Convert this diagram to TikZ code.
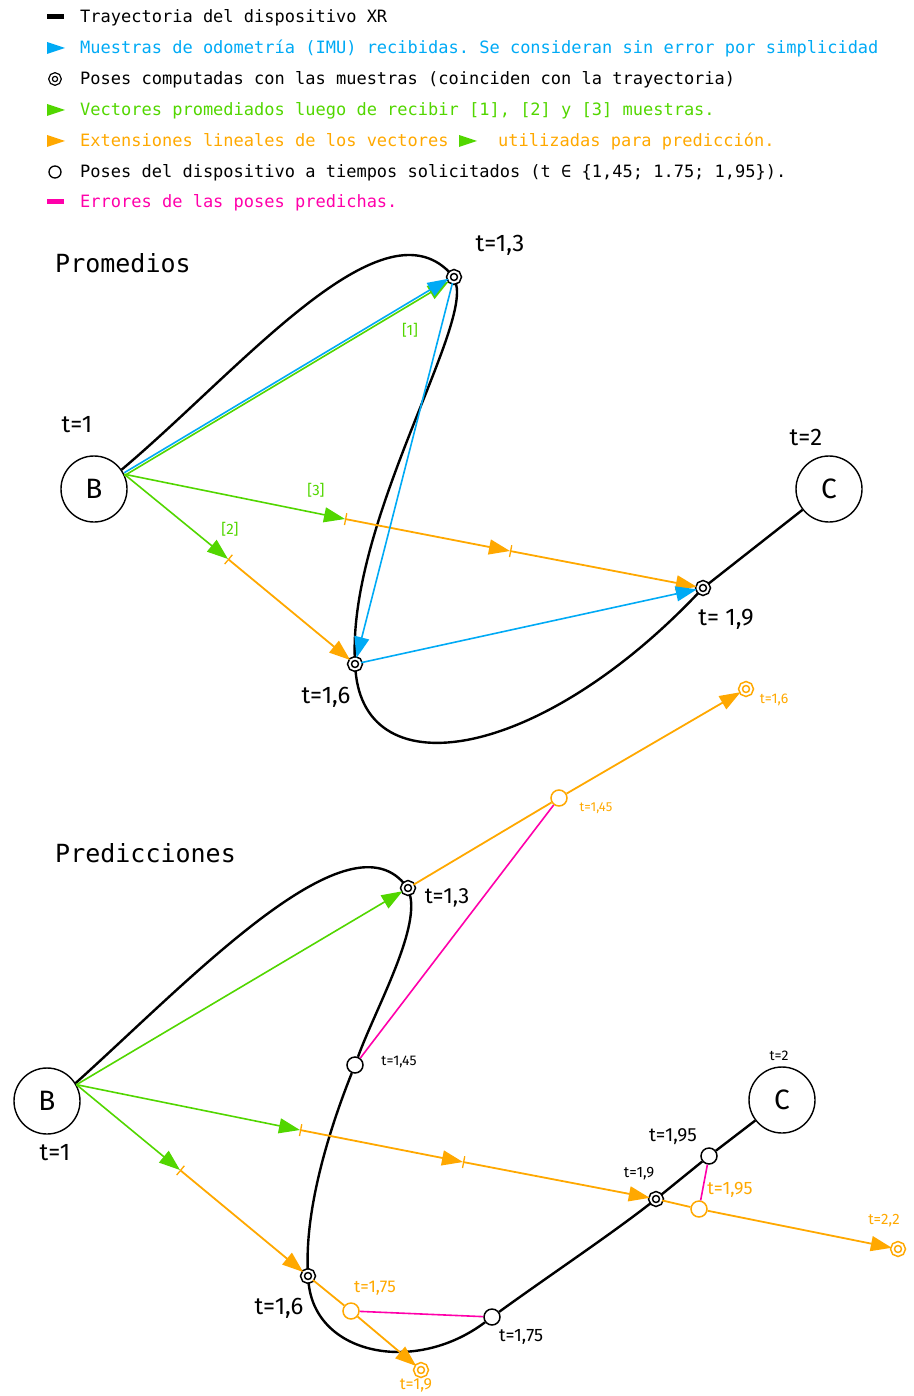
\documentclass[tikz,border=0pt]{standalone}
\usepackage{fontspec}
\setmonofont{DejaVu Sans Mono}
\newfontfamily\handfont{Fira Sans}
\usetikzlibrary{positioning, arrows.meta, calc}
\definecolor{imublue}{RGB}{0,170,245}
\definecolor{avggreen}{RGB}{82,214,0}
\definecolor{extorange}{RGB}{255,168,0}
\definecolor{errmagenta}{RGB}{255,0,170}

\begin{document}
\begin{tikzpicture}[
        x=1pt, y=-1pt,
        legtext/.style={anchor=base west, inner sep=0pt, font=\ttfamily\fontsize{17}{17}\selectfont},
        title/.style={anchor=base west, inner sep=0pt, font=\ttfamily\fontsize{25}{25}\selectfont},
        tlabel/.style={inner sep=0pt, font=\handfont\fontsize{#1}{#1}\selectfont},
        tlabel/.default=24,
        endpt/.style={circle, draw, line width=1.4pt, minimum size=66pt, inner sep=0pt, font=\handfont\fontsize{28}{28}\selectfont},
        pose/.style={circle, draw=#1, fill=white, line width=1.6pt, double=white, double distance=2pt, inner sep=0pt, minimum size=11pt},
        pose/.default=black,
        req/.style={circle, draw=#1, fill=white, line width=1.5pt, inner sep=0pt, minimum size=16pt},
        req/.default=black,
        >={Triangle[length=21pt, width=15pt]},
        traj/.style={line width=2.4pt, black},
        imu/.style={->, line width=1.6pt, imublue},
        avg/.style={->, line width=1.6pt, avggreen},
        ext/.style={line width=1.8pt, extorange},
        tick/.style={{Bar[width=12pt, line width=1.3pt]}->},
        err/.style={line width=1.6pt, errmagenta}
    ]
    \useasboundingbox (0,0) rectangle (913,1396);

    % legend
    \draw[line width=5pt] (47,17) -- (64,17);
    \node[legtext] (leg1) at (80,23) {Trayectoria del dispositivo XR};
    \fill[imublue] (47,42) -- (65,48) -- (47,54) -- cycle;
    \node[legtext, text=imublue] (leg2) at (80,54) {Muestras de odometría (IMU) recibidas. Se consideran sin error por simplicidad};
    \node[pose, minimum size=9pt, line width=1.3pt, double distance=2pt] (leg3m) at (55,79) {};
    \node[legtext] (leg3) at (80,85) {Poses computadas con las muestras (coinciden con la trayectoria)};
    \fill[avggreen] (47,104) -- (65,110) -- (47,116) -- cycle;
    \node[legtext, text=avggreen] (leg4) at (80,116) {Vectores promediados luego de recibir [1], [2] y [3] muestras.};
    \fill[extorange] (47,135) -- (65,141) -- (47,147) -- cycle;
    \node[legtext, text=extorange] (leg5) at (80,147) {Extensiones lineales de los vectores};
    \fill[avggreen] (459,135) -- (477,141) -- (459,147) -- cycle;
    \node[legtext, text=extorange] (leg5b) at (498,147) {utilizadas para predicción.};
    \node[req, minimum size=12pt, line width=1.3pt] (leg6m) at (55,172) {};
    \node[legtext] (leg6) at (80,178) {Poses del dispositivo a tiempos solicitados (t ∈ \{1,45; 1.75; 1,95\}).};
    \draw[errmagenta, line width=5pt] (47,202) -- (64,202);
    \node[legtext, text=errmagenta] (leg7) at (80,208) {Errores de las poses predichas.};

    % promedios
    \node[title] (tprom) at (55,273) {Promedios};
    \node[endpt] (b) at (94,489) {B};
    \node[endpt] (c) at (829,489) {C};
    \node[pose] (p13) at (454,277) {};
    \node[pose] (p16) at (355,664) {};
    \node[pose] (p19) at (703,588) {};
    \coordinate (b0) at (b.26);
    \coordinate (k2a) at (228,559);
    \coordinate (k3a) at (345,519);
    \coordinate (k3b) at (510,551);

    \draw[traj] (b.35) .. controls (240,370) and (380,200) .. (p13)
        .. controls (470,330) and (350,520) .. (p16)
        .. controls (365,790) and (540,760) .. (p19) -- (c);

    \draw[avg, transform canvas={yshift=-1.5pt}] (b0) -- (p13);
    \draw[avg] (b0) -- (k3a);
    \draw[avg] (b0) -- (k2a);
    \draw[ext, tick] (k3a) -- (k3b);
    \draw[ext, tick] (k3b) -- (p19);
    \draw[ext, tick] (k2a) -- (p16);
    \draw[imu, transform canvas={yshift=1.5pt}] (b0) -- (p13);
    \draw[imu] (p13) -- (p16);
    \draw[imu] (p16) -- (p19);

    \node[tlabel] (lt1) at (77,425) {t=1};
    \node[tlabel] (lt13) at (500,245) {t=1,3};
    \node[tlabel] (lt16) at (326,697) {t=1,6};
    \node[tlabel] (lt19) at (726,619) {t= 1,9};
    \node[tlabel] (lt2) at (806,437) {t=2};
    \node[tlabel=15, text=avggreen] (lg1) at (410,330) {[1]};
    \node[tlabel=15, text=avggreen] (lg2) at (230,529) {[2]};
    \node[tlabel=15, text=avggreen] (lg3) at (316,490) {[3]};

    % predicciones
    \node[title] (tpred) at (55,862) {Predicciones};
    \node[endpt] (b2) at (47,1101) {B};
    \node[endpt] (c2) at (782,1100) {C};
    \node[pose] (p13b) at (408,888) {};
    \node[req] (p145) at (355,1065) {};
    \node[pose] (p16b) at (308,1276) {};
    \node[req] (p175) at (492,1317) {};
    \node[pose] (p19b) at (656,1199) {};
    \node[req] (p195) at (709,1156) {};
    \node[req=extorange] (q145) at (559,798) {};
    \node[pose=extorange] (q16) at (746,689) {};
    \node[req=extorange] (q175) at (351,1311) {};
    \node[pose=extorange] (q19) at (421,1370) {};
    \node[req=extorange] (q195) at (699,1209) {};
    \node[pose=extorange] (q22) at (898,1249) {};
    \coordinate (b20) at (b2.29);
    \coordinate (k2c) at (180,1170);
    \coordinate (k3c) at (300,1130);
    \coordinate (k3d) at (463,1162);

    \draw[traj] (b2.32) .. controls (190,980) and (345,815) .. (p13b)
        .. controls (420,930) and (375,1010) .. (p145)
        .. controls (335,1115) and (305,1200) .. (p16b)
        .. controls (315,1355) and (415,1375) .. (p175)
        .. controls (550,1275) and (610,1235) .. (p19b) -- (p195) -- (c2);

    \draw[avg] (b20) -- (p13b);
    \draw[avg] (b20) -- (k3c);
    \draw[avg] (b20) -- (k2c);
    \draw[ext, tick] (k3c) -- (k3d);
    \draw[ext, tick] (k3d) -- (p19b);
    \draw[ext, tick] (k2c) -- (p16b);
    \draw[ext] (p13b) -- (q145);
    \draw[ext, ->] (q145) -- (q16);
    \draw[ext] (p16b) -- (q175);
    \draw[ext, ->] (q175) -- (q19);
    \draw[ext] (p19b) -- (q195);
    \draw[ext, ->] (q195) -- (q22);
    \draw[err] (q145) -- (p145);
    \draw[err] (q175) -- (p175);
    \draw[err] (q195) -- (p195);

    \node[tlabel] (mt1) at (55,1153) {t=1};
    \node[tlabel=22] (mt13) at (447,898) {t=1,3};
    \node[tlabel=14] (mt145) at (399,1062) {t=1,45};
    \node[tlabel] (mt16) at (279,1308) {t=1,6};
    \node[tlabel=18] (mt175) at (521,1337) {t=1,75};
    \node[tlabel=15] (mt19) at (639,1174) {t=1,9};
    \node[tlabel=19] (mt195) at (673,1137) {t=1,95};
    \node[tlabel=14] (mt2) at (779,1056) {t=2};
    \node[tlabel=14, text=extorange] (ot16) at (774,700) {t=1,6};
    \node[tlabel=13, text=extorange] (ot145) at (596,808) {t=1,45};
    \node[tlabel=17, text=extorange] (ot175) at (375,1288) {t=1,75};
    \node[tlabel=16, text=extorange] (ot19) at (416,1385) {t=1,9};
    \node[tlabel=18, text=extorange] (ot195) at (730,1190) {t=1,95};
    \node[tlabel=15, text=extorange] (ot22) at (884,1221) {t=2,2};
\end{tikzpicture}
\end{document}
